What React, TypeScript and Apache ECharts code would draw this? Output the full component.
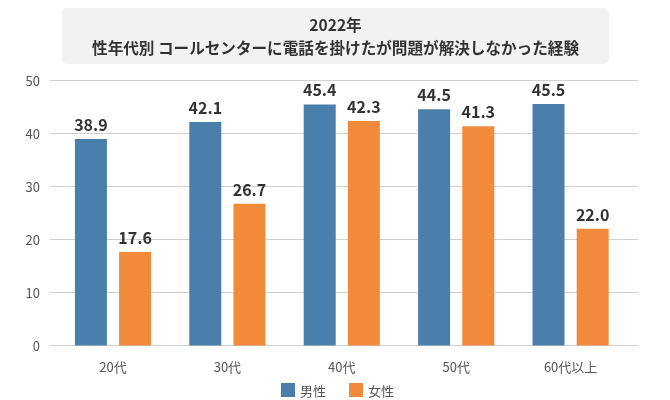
import React, { useEffect, useRef } from "react";
import * as echarts from "echarts";

const categories = ["20代", "30代", "40代", "50代", "60代以上"];
const male = [38.9, 42.1, 45.4, 44.5, 45.5];
const female = [17.6, 26.7, 42.3, 41.3, 22.0];
const titleLines = ["2022年", "性年代別 コールセンターに電話を掛けたが問題が解決しなかった経験"];
const yTicks = { min: 0, max: 50, interval: 10 };

const FONT = "'Noto Sans CJK JP', 'Noto Sans', sans-serif";

export default function App() {
  const ref = useRef<HTMLDivElement>(null);
  useEffect(() => {
    const chart = echarts.init(ref.current!, null, { renderer: "svg" });
    const label = {
      show: true,
      position: "top",
      distance: 7,
      formatter: (p: any) => Number(p.value).toFixed(1),
      fontSize: 16,
      fontWeight: "bold",
      color: "#333",
      fontFamily: FONT,
    };
    const titleStyle = {
      fontSize: 15.6,
      fontWeight: "bold",
      fill: "#333",
      align: "center",
      verticalAlign: "middle",
      fontFamily: FONT,
    };
    chart.setOption({
      animation: false,
      textStyle: { fontFamily: FONT },
      graphic: [
        {
          type: "rect",
          shape: { x: 62, y: 8, width: 547, height: 56, r: 5 },
          style: { fill: "#f2f2f2" },
          z: 0,
        },
        { type: "text", x: 335.5, y: 24, style: { ...titleStyle, text: titleLines[0] } },
        { type: "text", x: 335.5, y: 47, style: { ...titleStyle, text: titleLines[1] } },
      ],
      grid: [
        { left: 50, right: 32, top: 80, bottom: 54.5, containLabel: false },
        { left: 55.8, right: 42.2, top: 80, bottom: 54.5, containLabel: false },
      ],
      legend: {
        top: 383,
        left: 281,
        padding: 0,
        itemWidth: 14,
        itemHeight: 14,
        itemGap: 23,
        icon: "rect",
        textStyle: { fontSize: 13, color: "#555", fontFamily: FONT },
        data: ["男性", "女性"],
      },
      xAxis: [
        { type: "value", gridIndex: 0, show: false, min: 0, max: 1 },
        {
          type: "category",
          gridIndex: 1,
          data: categories,
          axisLine: { show: false },
          axisTick: { show: false },
          axisLabel: { color: "#555", fontSize: 13, margin: 14, fontFamily: FONT },
        },
      ],
      yAxis: [
        {
          type: "value",
          gridIndex: 0,
          ...yTicks,
          axisLine: { show: false },
          axisTick: { show: false },
          splitLine: { lineStyle: { color: "#d0d0d0" } },
          axisLabel: { color: "#555", fontSize: 13, margin: 10, fontFamily: FONT },
        },
        {
          type: "value",
          gridIndex: 1,
          ...yTicks,
          show: false,
          splitLine: { show: false },
        },
      ],
      series: [
        {
          name: "男性",
          type: "bar",
          xAxisIndex: 1,
          yAxisIndex: 1,
          data: male,
          barWidth: 32,
          barGap: "38%",
          itemStyle: { color: "#4a7eab" },
          label,
        },
        {
          name: "女性",
          type: "bar",
          xAxisIndex: 1,
          yAxisIndex: 1,
          data: female,
          barWidth: 32,
          itemStyle: { color: "#f28a3c" },
          label,
        },
      ],
    });
    return () => chart.dispose();
  }, []);
  return (
    <div
      ref={ref}
      style={{ position: "fixed", left: 0, top: 0, width: 670, height: 400 }}
    />
  );
}
